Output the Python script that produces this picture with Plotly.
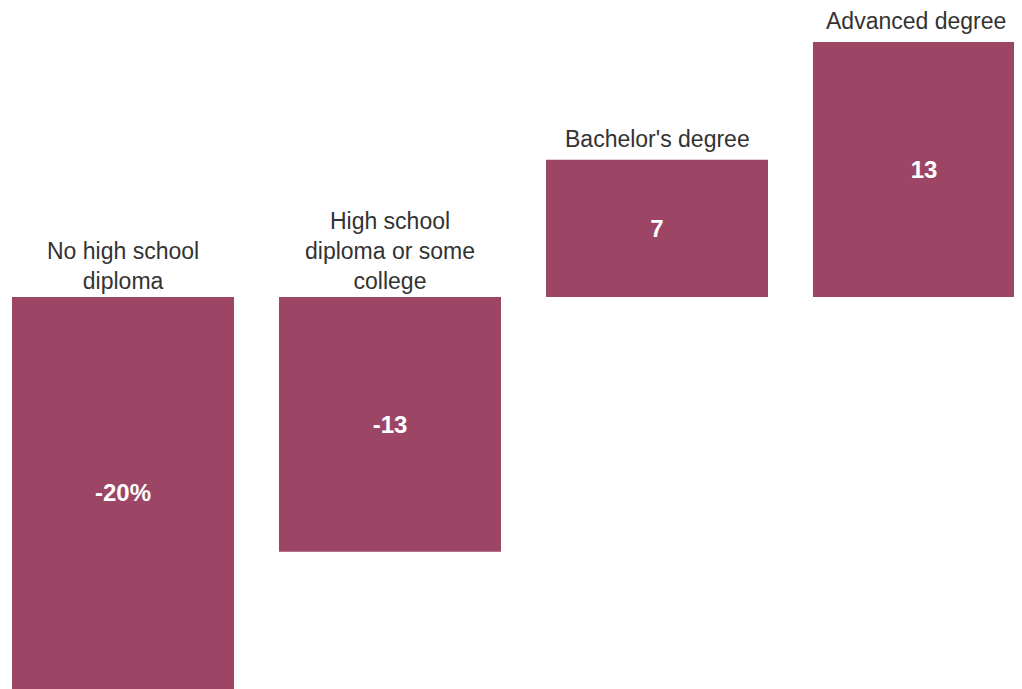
import plotly.graph_objects as go

categories = ["No high school<br>diploma", "High school<br>diploma or some<br>college",
              "Bachelor's degree", "Advanced degree"]
values = [-20, -13, 7, 13]
value_labels = ["-20%", "-13", "7", "13"]

x_pos = list(range(len(values)))
bar_color = "#9C4565"

fig = go.Figure()
fig.add_trace(go.Bar(
    x=x_pos, y=values, width=0.8315,
    marker=dict(color=bar_color, line=dict(width=0)),
    text=value_labels, textposition="inside", insidetextanchor="middle",
    textangle=0,
    textfont=dict(color="white", size=24, family="Liberation Sans, Arial, sans-serif", weight="bold"),
    hoverinfo="skip",
))

last = len(values) - 1
for xi, (cat, v) in enumerate(zip(categories, values)):
    fig.add_annotation(
        x=xi, y=max(v, 0), text=cat, showarrow=False,
        xanchor="center", yanchor="bottom",
        yshift=6 if v > 0 else 1,
        xshift=-8 if xi == last else 0,
        font=dict(size=23, color="#333333", family="Liberation Sans, Arial, sans-serif"),
        align="center",
    )

fig.update_layout(
    width=1022, height=689,
    margin=dict(l=0, r=0, t=0, b=0),
    paper_bgcolor="white", plot_bgcolor="white",
    showlegend=False,
    xaxis=dict(range=[-0.4307, 3.397], visible=False, fixedrange=True),
    yaxis=dict(range=[-20.41, 14.74], visible=False, fixedrange=True),
)

fig.write_html("out.html")
